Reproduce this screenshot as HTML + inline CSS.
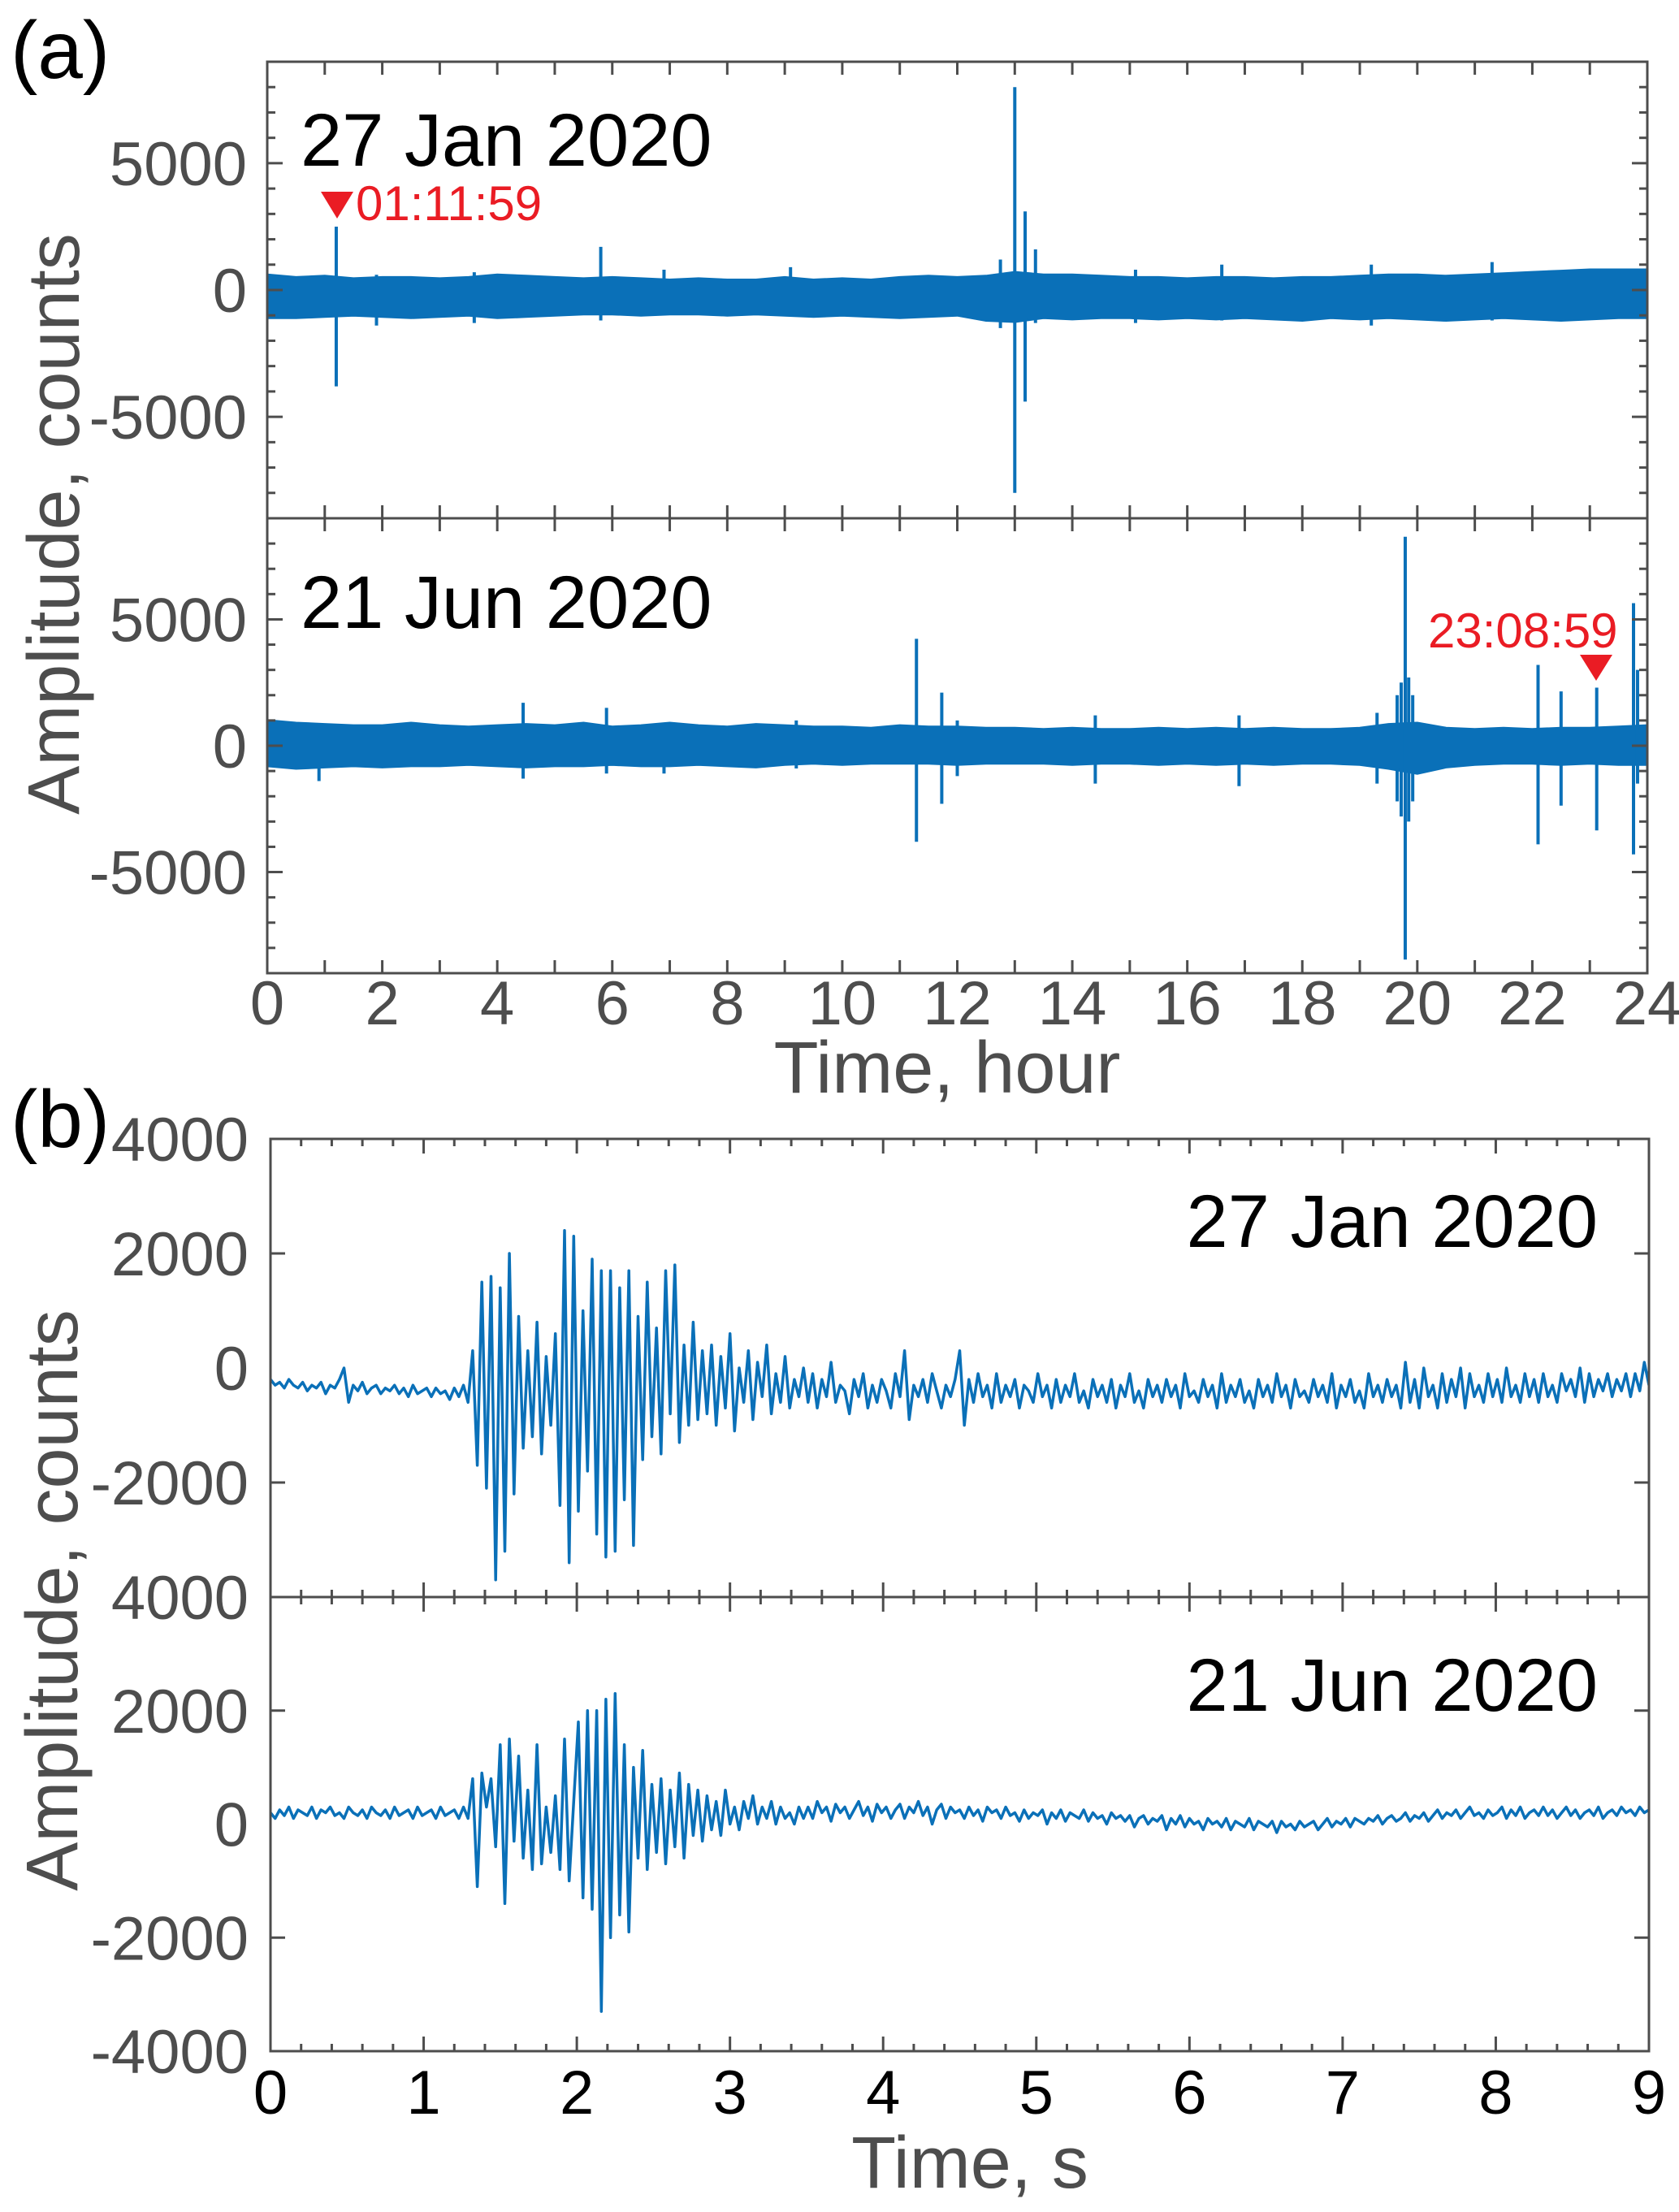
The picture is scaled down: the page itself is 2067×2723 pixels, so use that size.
<!DOCTYPE html>
<html><head><meta charset="utf-8"><style>
html,body{margin:0;padding:0;background:#fff;}
svg{display:block;font-family:"Liberation Sans",Arial,sans-serif;}
</style></head><body>
<svg id="fig" width="2067" height="2723" viewBox="0 0 2067 2723" xmlns="http://www.w3.org/2000/svg">
<defs>
<clipPath id="cA1"><rect x="329" y="76" width="1699" height="562"/></clipPath>
<clipPath id="cA2"><rect x="329" y="638" width="1699" height="560"/></clipPath>
<clipPath id="cB1"><rect x="333" y="1402" width="1697" height="564"/></clipPath>
<clipPath id="cB2"><rect x="333" y="1966" width="1697" height="559"/></clipPath>
</defs>
<g id="gA1" clip-path="url(#cA1)"></g>
<g id="gA2" clip-path="url(#cA2)"></g>
<g id="gB1" clip-path="url(#cB1)"></g>
<g id="gB2" clip-path="url(#cB2)"></g>
<g id="axes"></g>
<text x="13" y="96" font-size="100" fill="#000">(a)</text>
<text x="13" y="1412" font-size="100" fill="#000">(b)</text>
<text x="370" y="204" font-size="92" fill="#000">27 Jan 2020</text>
<text x="370" y="773" font-size="92" fill="#000">21 Jun 2020</text>
<text x="1967" y="1535" font-size="92" fill="#000" text-anchor="end">27 Jan 2020</text>
<text x="1967" y="2106" font-size="92" fill="#000" text-anchor="end">21 Jun 2020</text>
<polygon points="395,236 435,236 415,269" fill="#ea1c24"/>
<text x="438" y="271" font-size="60" fill="#ea1c24">01:11:59</text>
<polygon points="1945,806 1985,806 1965,838" fill="#ea1c24"/>
<text x="1758" y="797" font-size="60" fill="#ea1c24">23:08:59</text>
<text x="1166" y="1345" font-size="90" fill="#4d4d4d" text-anchor="middle">Time, hour</text>
<text x="1194" y="2693" font-size="90" fill="#4d4d4d" text-anchor="middle">Time, s</text>
<text transform="translate(97,645) rotate(-90)" font-size="90" fill="#4d4d4d" text-anchor="middle">Amplitude, counts</text>
<text transform="translate(95,1970) rotate(-90)" font-size="90" fill="#4d4d4d" text-anchor="middle">Amplitude, counts</text>
</svg>
<script>
// ---- Panel (a) data: envelope every 0.5 h, plus spikes ----
const envHours = [0,0.5,1,1.5,2,2.5,3,3.5,4,4.5,5,5.5,6,6.5,7,7.5,8,8.5,9,9.5,10,10.5,11,11.5,12,12.5,13,13.5,14,14.5,15,15.5,16,16.5,17,17.5,18,18.5,19,19.5,20,20.5,21,21.5,22,22.5,23,23.5,24];
const janUpper = [600,500,550,450,500,500,450,500,600,550,500,450,500,450,400,450,400,400,500,400,450,400,500,550,500,550,700,600,600,550,500,500,450,500,500,450,500,500,550,600,600,550,600,650,700,750,800,800,800];
const janLower = [-1100,-1100,-1050,-1000,-1050,-1100,-1050,-1000,-1100,-1050,-1000,-950,-950,-1000,-950,-950,-1000,-950,-1000,-1050,-1000,-1050,-1100,-1050,-1000,-1200,-1250,-1100,-1150,-1100,-1100,-1150,-1100,-1150,-1100,-1150,-1200,-1100,-1150,-1100,-1150,-1200,-1150,-1100,-1150,-1200,-1150,-1100,-1100];
const junUpper = [1000,900,850,800,800,900,800,750,800,850,800,900,750,800,900,800,750,850,800,750,750,700,800,750,750,700,700,650,700,650,650,700,650,700,650,700,650,650,700,850,900,700,650,700,650,700,700,750,800];
const junLower = [-800,-900,-850,-800,-850,-800,-800,-750,-800,-850,-800,-800,-750,-800,-800,-750,-800,-850,-750,-700,-750,-700,-700,-700,-750,-700,-700,-700,-750,-700,-700,-750,-700,-750,-700,-750,-700,-700,-750,-900,-1100,-850,-750,-700,-700,-750,-700,-750,-750];
const janSpikeT   = [1.2,1.9,3.6,5.8,6.9,9.1,12.75,13.0,13.18,13.36,15.1,16.6,19.2,21.3];
const janSpikeMax = [2500,600,700,1700,800,900,1200,8000,3100,1600,800,1000,1000,1100];
const janSpikeMin = [-3800,-1400,-1300,-1200,-1000,-1000,-1500,-8000,-4400,-1300,-1300,-1200,-1400,-1200];
const junSpikeT   = [0.9,4.45,5.9,6.9,9.2,11.29,11.73,12.0,14.4,16.9,19.3,19.65,19.72,19.79,19.85,19.92,22.1,22.5,23.12,23.76,23.83];
const junSpikeMax = [900,1700,1500,900,1000,4230,2100,1000,1200,1200,1300,2000,2500,8270,2700,2000,3200,2150,2300,5640,3000];
const junSpikeMin = [-1400,-1300,-1100,-1100,-900,-3800,-2300,-1200,-1500,-1600,-1500,-2200,-2800,-8460,-3000,-2200,-3900,-2370,-3350,-4300,-1500];
const hourTicks = [0,2,4,6,8,10,12,14,16,18,20,22,24];
const ampTicksA = [5000,0,-5000];
// ---- Panel (b) data: 9 s waveforms ----
const evDuration = 9;
const janWave = [-200,-300,-250,-350,-200,-300,-350,-250,-400,-300,-350,-250,-450,-300,-350,-200,0,-600,-300,-400,-250,-450,-350,-300,-450,-350,-400,-300,-450,-350,-500,-300,-450,-400,-350,-500,-350,-450,-400,-550,-350,-500,-300,-600,
300,-1700,1500,-2100,1600,-3700,1400,-3200,2000,
-2200,900,-1400,300,-1200,800,-1500,200,-1000,
600,-2400,2400,-3400,2300,-2500,1000,-1800,1900,-2900,1700,-3300,1700,-3200,1400,-2300,1700,-3100,900,
-1600,1500,-1200,700,-1500,1700,-800,1800,-1300,400,-1000,800,
-900,300,-800,400,-1000,200,-700,600,-1100,0,-600,300,-900,100,-500,400,-800,-100,-600,200,-700,-200,-500,0,
-600,-100,-700,-200,-500,100,-600,-300,-400,-800,-200,-500,-100,-700,-300,-600,-200,-400,-700,-100,
-500,300,-900,-300,-500,-200,-600,-100,-400,-700,-300,-500,-200,300,-1000,-200,-600,-100,-500,-300,
-700,-100,-600,-300,-500,-200,-700,-300,-400,-600,-100,-500,-300,-700,-200,-600,-300,-500,-100,-600,
-400,-700,-200,-500,-300,-600,-200,-700,-300,-500,-100,-600,-400,-700,-200,-500,-300,-600,-200,-500,
-300,-700,-100,-500,-400,-600,-200,-500,-300,-700,-100,-600,-300,-500,-200,-600,-400,-700,-200,-500,
-300,-600,-100,-500,-300,-700,-200,-500,-400,-600,-200,-500,-300,-600,-100,-700,-300,-500,-200,-600,
-400,-700,-100,-500,-300,-600,-200,-500,-300,-700,100,-600,-200,-700,0,-500,-300,-700,-100,-600,
-200,-500,0,-700,-100,-500,-300,-600,-100,-500,-200,-600,0,-500,-300,-600,-100,-500,-200,-600,
-100,-500,-300,-600,-100,-400,-200,-500,0,-600,-100,-500,-200,-400,-100,-500,-200,-400,-100,-500,
-100,-400,100,-300];
const junWave = [200,100,250,150,300,100,250,200,150,300,100,250,200,300,150,200,100,300,200,150,250,100,300,200,150,250,100,300,150,200,250,100,300,150,200,250,100,300,150,200,250,100,300,100,
800,-1100,900,300,800,-400,1400,-1400,1500,
-300,1200,-600,600,-800,1400,-700,300,-500,
500,-800,1500,-1000,400,1800,-1300,2000,-1500,2000,-3300,2200,-2000,2300,-1600,1400,-1900,1000,-600,
1300,-800,700,-500,800,-700,600,-400,900,-600,700,-200,
600,-300,500,-100,400,-200,600,0,300,-100,400,100,500,0,300,100,400,0,300,100,200,0,300,100,
300,100,400,200,300,50,350,200,300,100,250,400,150,300,50,350,200,300,100,250,
350,100,300,200,400,150,300,0,250,350,100,300,200,250,100,300,150,250,50,300,
200,250,100,300,150,200,50,250,100,200,150,250,0,200,100,250,50,200,150,100,
250,50,200,100,150,0,200,100,150,50,150,-50,100,150,0,100,50,150,-100,100,
0,150,-50,100,0,50,-100,100,0,50,-50,100,-100,50,0,-50,100,-100,50,0,
-50,50,-150,50,-50,0,-100,50,-50,0,50,-100,0,100,-50,50,0,100,-50,100,
50,0,100,50,150,0,100,150,50,100,200,50,150,100,200,50,150,250,100,200,
150,250,100,200,300,150,200,100,250,150,200,300,100,250,150,300,100,200,250,150,
300,150,250,100,200,300,150,250,100,200,250,150,300,100,200,250,150,300,200,250,
150,300,200,250];
const secTicks = [0,1,2,3,4,5,6,7,8,9];
const ampTicksB = [4000,2000,0,-2000,-4000];

const NS='http://www.w3.org/2000/svg';
const AX='#4d4d4d', BLUE='#0a70b8';
function mk(tag, parent){const e=document.createElementNS(NS,tag);parent.appendChild(e);return e;}
function line(parent,x1,y1,x2,y2,w){const l=mk('line',parent);l.setAttribute('x1',x1);l.setAttribute('y1',y1);l.setAttribute('x2',x2);l.setAttribute('y2',y2);l.setAttribute('stroke',AX);l.setAttribute('stroke-width',w||3);return l;}

const xA = h => 329 + (h/24)*(2028-329);
const yA1 = v => 357 - v*(562/18000);
const yA2 = v => 918 - v*(560/18000);
const xB = s => 333 + (s/9)*(2030-333);
const yB1 = v => 1684 - v*(564/8000);
const yB2 = v => 2245.5 - v*(559/8000);

const axes = document.getElementById('axes');

function drawBand(g, up, lo, yf, name){
  let d='M';
  envHours.forEach((h,i)=>{d+=xA(h).toFixed(1)+','+yf(up[i]).toFixed(1)+' L';});
  for(let i=envHours.length-1;i>=0;i--){d+=xA(envHours[i]).toFixed(1)+','+yf(lo[i]).toFixed(1)+(i?' L':' Z');}
  const p=mk('path',g);
  p.setAttribute('d',d);p.setAttribute('fill',BLUE);p.setAttribute('stroke',BLUE);p.setAttribute('stroke-width',3);
  
  
}
function drawSpikes(g, ts, mx, mn, yf){
  ts.forEach((t,i)=>{
    const l=mk('line',g);
    l.setAttribute('x1',xA(t));l.setAttribute('x2',xA(t));
    l.setAttribute('y1',yf(mx[i]));l.setAttribute('y2',yf(mn[i]));
    l.setAttribute('stroke',BLUE);l.setAttribute('stroke-width',4);
    
    
  });
}
drawBand(document.getElementById('gA1'), janUpper, janLower, yA1, 'noise-band-27-jan');
drawSpikes(document.getElementById('gA1'), janSpikeT, janSpikeMax, janSpikeMin, yA1);
drawBand(document.getElementById('gA2'), junUpper, junLower, yA2, 'noise-band-21-jun');
drawSpikes(document.getElementById('gA2'), junSpikeT, junSpikeMax, junSpikeMin, yA2);

function drawWave(g, vals, yf, name){
  const n=vals.length;
  const pts=vals.map((v,i)=>xB(i*evDuration/(n-1)).toFixed(1)+','+yf(v).toFixed(1)).join(' ');
  const pl=mk('polyline',g);
  pl.setAttribute('points',pts);pl.setAttribute('fill','none');pl.setAttribute('stroke',BLUE);pl.setAttribute('stroke-width',3.5);pl.setAttribute('stroke-linejoin','round');
  
  
}
drawWave(document.getElementById('gB1'), janWave, yB1, 'waveform-27-jan');
drawWave(document.getElementById('gB2'), junWave, yB2, 'waveform-21-jun');

function frame(x0,y0,x1,y1,name){
  const r=mk('rect',axes);
  r.setAttribute('x',x0);r.setAttribute('y',y0);r.setAttribute('width',x1-x0);r.setAttribute('height',y1-y0);
  r.setAttribute('fill','none');r.setAttribute('stroke',AX);r.setAttribute('stroke-width',3);
  
  
}
frame(329,76,2028,638,'axes-frame-a-top');
frame(329,638,2028,1198,'axes-frame-a-bottom');
frame(333,1402,2030,1966,'axes-frame-b-top');
frame(333,1966,2030,2525,'axes-frame-b-bottom');

[[76,638],[638,1198]].forEach(([t,b])=>{
  for(let h=0;h<=24;h++){ line(axes,xA(h),t,xA(h),t+16); line(axes,xA(h),b,xA(h),b-16); }
});
for(let v=-9000;v<=9000;v+=1000){
  const L=(v%5000===0)?19:10;
  [yA1,yA2].forEach(yf=>{ line(axes,329,yf(v),329+L,yf(v)); line(axes,2028,yf(v),2028-L,yf(v)); });
}
[[1402,1966],[1966,2525]].forEach(([t,b])=>{
  for(let k=0;k<=45;k++){ const s=k*0.2; const L=(k%5===0)?18:9;
    line(axes,xB(s),t,xB(s),t+L); line(axes,xB(s),b,xB(s),b-L); }
});
[yB1,yB2].forEach(yf=>{ [2000,-2000].forEach(v=>{ line(axes,333,yf(v),351,yf(v)); line(axes,2030,yf(v),2012,yf(v)); }); });

function label(x,y,txt,anchor,fill,name){
  const t=mk('text',axes);
  t.setAttribute('x',x);t.setAttribute('y',y);t.setAttribute('font-size',76);t.setAttribute('fill',fill);t.setAttribute('text-anchor',anchor);
  t.textContent=txt;
  
  
}
hourTicks.forEach(h=>label(xA(h),1261,String(h),'middle',AX,'x-tick-label-hour'));
ampTicksA.forEach(v=>{ label(304,yA1(v)+27,String(v),'end',AX,'y-tick-label-a'); label(304,yA2(v)+27,String(v),'end',AX,'y-tick-label-a'); });
secTicks.forEach(s=>label(xB(s),2602,String(s),'middle','#000','x-tick-label-seconds'));
ampTicksB.forEach(v=>{ if(v!==-4000) label(306,yB1(v)+27,String(v),'end',AX,'y-tick-label-b'); });
ampTicksB.forEach(v=>{ label(306,yB2(v)+27,String(v),'end',AX,'y-tick-label-b'); });
</script>
</body></html>
